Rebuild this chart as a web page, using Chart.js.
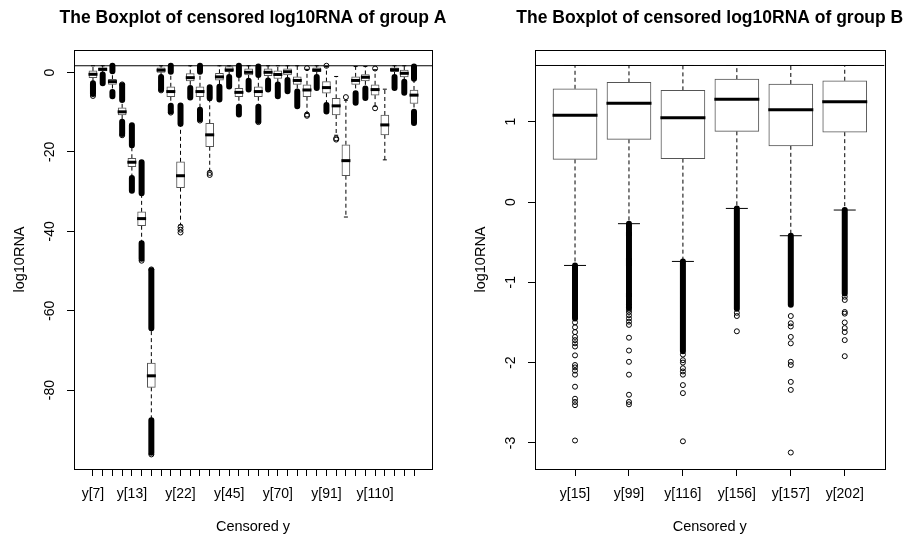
<!DOCTYPE html>
<html>
<head>
<meta charset="utf-8">
<title>Boxplot of censored log10RNA</title>
<script src="https://cdn.jsdelivr.net/npm/chart.js@4.4.1/dist/chart.umd.min.js"></script>
<style>
  html, body { margin: 0; padding: 0; background: #fff; overflow: hidden; }
  #wrap { position: relative; width: 910px; height: 537px; overflow: hidden; }
  canvas { position: absolute; top: 0; }
  #chartA { left: 0; }
  #chartB { left: 455px; }
</style>
</head>
<body>
<div id="wrap">
  <canvas id="chartA" width="455" height="537"></canvas>
  <canvas id="chartB" width="455" height="537"></canvas>
</div>
<script>
// log10(50), the censoring limit drawn as a horizontal line
const CENSOR_LIMIT = 1.7;

// ---------- group A (34 censored y) ----------
const labelsA = ["y[7]", "", "", "", "y[13]", "", "", "", "", "y[22]",
                 "", "", "", "", "y[45]", "", "", "", "", "y[70]",
                 "", "", "", "", "y[91]", "", "", "", "", "y[110]",
                 "", "", "", ""];
const q3A  = [0.4, 1.2, -1.7, -8.9, -21.6, -35.1, -73.2, 1.2, -3.6, -22.5,
              -0.3, -3.6, -12.8, -0.2, 1.5, -4.0, 0.9, -3.6, 0.9, 0.4,
              0.9, -1.1, -3.1, 1.2, -2.3, -6.5, -18.2, -1.1, -0.5, -3.1,
              -10.7, 1.2, 0.6, -4.4];
const medA = [-0.45, 0.8, -2.3, -9.9, -22.6, -36.8, -76.4, 0.6, -4.8, -26.0,
              -1.3, -4.8, -15.7, -1.1, 0.65, -5.0, 0.05, -4.8, 0.05, -0.5,
              0.2, -2.0, -4.4, 0.6, -3.8, -8.4, -22.2, -2.0, -1.2, -4.3,
              -13.2, 0.7, -0.2, -5.7];
const q1A  = [-1.3, 0.4, -3.0, -10.7, -23.7, -38.6, -79.3, 0.05, -6.1, -29.0,
              -2.1, -6.1, -18.7, -1.9, 0.2, -6.1, -0.6, -6.1, -0.8, -1.5,
              -0.6, -3.0, -6.1, 0.2, -5.2, -10.7, -26.0, -3.0, -2.1, -5.7,
              -15.7, 0.2, -1.1, -7.8];
const whiskerHiA = [1.7, 1.7, 0.1, -7.2, -18.8, -30.8, -64.8, 1.7, 0.0, -13.4,
                    1.7, 0.0, -7.0, 1.7, 1.7, -1.0, 1.7, -1.0, 1.7, 1.7,
                    1.7, 1.7, 0.8, 1.7, 1.5, -1.0, -7.0, 1.5, 1.5, 0.7,
                    -4.2, 1.7, 1.7, -2.0];
const whiskerLoA = [-2.4, -0.2, -4.7, -12.1, -26.2, -42.6, -87.2, -0.9, -8.1, -38.4,
                    -3.6, -9.0, -24.8, -3.2, -0.9, -8.3, -1.9, -8.3, -1.8, -2.8,
                    -1.8, -4.6, -10.2, -0.9, -7.9, -15.8, -36.4, -4.8, -3.8, -8.5,
                    -22.0, -0.9, -2.2, -9.6];
// runs of outliers so dense that they print as solid black columns
const outlierRunsA = [
  [[-5.4, -2.7]], [[-2.7, -0.5]], [[0.3, 1.7], [-6.0, -4.9]],
  [[-6.9, -3.2], [-15.5, -12.4]], [[-18.3, -13.3], [-29.8, -26.6]],
  [[-30.4, -22.6], [-46.9, -43.0]], [[-64.4, -49.8], [-95.8, -87.6]],
  [[-4.2, -1.1]], [[0.2, 1.7], [-9.8, -8.4]], [[-12.9, -8.3]],
  [[-6.3, -3.9]], [[0.2, 1.7], [-11.8, -9.4]], [[-6.4, -3.7]],
  [[-6.8, -3.6]], [[-3.5, -1.1]], [[-0.6, 1.7], [-10.6, -8.6]],
  [[-4.3, -2.1]], [[-0.6, 1.5], [-12.2, -8.6]], [[-4.3, -2.0]],
  [[-6.0, -3.0]], [[-4.7, -1.9]], [[-8.5, -4.8]], [],
  [[-3.9, -1.1]], [[-9.8, -8.2]], [], [], [[-7.6, -5.2]], [[-6.4, -4.0]],
  [], [], [[-3.9, -1.1]], [[-5.1, -2.3]], [[-1.6, 1.5], [-12.7, -9.9]]
];
const outliersA = [
  [-5.9], [], [], [-3.0, -15.8], [], [-47.4], [-49.6, -96.2], [-4.5], [-10.1],
  [-38.9, -39.6, -40.3], [], [-12.1], [-25.3, -25.8], [], [], [], [], [-12.5],
  [], [], [], [], [1.1, -10.6, -10.9], [], [1.7], [-16.6, -16.9], [-6.2], [],
  [], [1.0, -9.0], [], [], [], []
];
const yTicksA = [0, -20, -40, -60, -80];

// ---------- group B (6 censored y) ----------
const labelsB = ["y[15]", "y[99]", "y[116]", "y[156]", "y[157]", "y[202]"];
const q3B  = [1.41, 1.49, 1.39, 1.53, 1.47, 1.51];
const medB = [1.08, 1.23, 1.05, 1.28, 1.15, 1.25];
const q1B  = [0.53, 0.78, 0.54, 0.88, 0.70, 0.87];
const whiskerHiB = [1.70, 1.70, 1.70, 1.70, 1.70, 1.70];
const whiskerLoB = [-0.79, -0.27, -0.74, -0.08, -0.42, -0.10];
const outlierRunsB = [
  [[-1.45, -0.79]], [[-1.32, -0.27]], [[-1.86, -0.74]],
  [[-1.33, -0.08]], [[-1.28, -0.42]], [[-1.14, -0.10]]
];
const outliersB = [
  [-1.50, -1.56, -1.62, -1.68, -1.72, -1.76, -1.80, -1.91, -2.03, -2.06, -2.10,
   -2.15, -2.30, -2.45, -2.49, -2.53, -2.97],
  [-1.34, -1.37, -1.41, -1.45, -1.49, -1.53, -1.69, -1.85, -1.99, -2.15, -2.40,
   -2.49, -2.52],
  [-1.90, -1.97, -2.00, -2.07, -2.11, -2.15, -2.28, -2.38, -2.98],
  [-1.38, -1.42, -1.61],
  [-1.42, -1.51, -1.55, -1.68, -1.76, -1.99, -2.03, -2.24, -2.34, -3.12],
  [-1.18, -1.22, -1.37, -1.39, -1.50, -1.57, -1.62, -1.72, -1.92]
];
const yTicksB = [1, 0, -1, -2, -3];

Chart.defaults.font.family = '"Liberation Sans", Arial, sans-serif';

function boxplotChart(canvasId, g) {
  const xs = g.labels.map(function(l, i) { return i + 1; });

  const boxes = xs.map(function(x, i) { return { x: x, y: [g.q1[i], g.q3[i]] }; });
  const medians = xs.map(function(x, i) { return { x: x, y: g.med[i] }; });
  const whiskers = [];
  const caps = [];
  xs.forEach(function(x, i) {
    whiskers.push({ x: x, y: g.q3[i] }, { x: x, y: g.wHi[i] }, { x: x, y: null });
    whiskers.push({ x: x, y: g.q1[i] }, { x: x, y: g.wLo[i] }, { x: x, y: null });
    caps.push({ x: x, y: g.wHi[i] }, { x: x, y: g.wLo[i] });
  });
  const runs = [];
  g.runs.forEach(function(list, i) {
    list.forEach(function(r) {
      runs.push({ x: i + 1, y: r[0] }, { x: i + 1, y: r[1] }, { x: i + 1, y: null });
    });
  });
  const outliers = [];
  g.outliers.forEach(function(list, i) {
    list.forEach(function(v) { outliers.push({ x: i + 1, y: v }); });
  });

  // frame, titles and the rotated R-style tick labels
  const decor = {
    id: 'rDecor',
    afterDraw: function(chart) {
      const ctx = chart.ctx;
      const a = chart.chartArea;
      const xs_ = chart.scales.x, ys_ = chart.scales.y;
      ctx.save();
      ctx.strokeStyle = '#000';
      ctx.lineWidth = 1;
      ctx.strokeRect(Math.round(a.left) + 0.5, Math.round(a.top) + 0.5,
                     Math.round(a.right - a.left), Math.round(a.bottom - a.top));
      ctx.fillStyle = '#000';
      ctx.textAlign = 'center';
      ctx.textBaseline = 'middle';
      ctx.font = 'bold 17.5px "Liberation Sans", Arial, sans-serif';
      ctx.fillText(g.title, (a.left + a.right) / 2, 18);
      ctx.font = '14px "Liberation Sans", Arial, sans-serif';
      xs_.ticks.forEach(function(t, i) {
        const lab = g.labels[i];
        if (lab) ctx.fillText(lab, xs_.getPixelForValue(t.value), 494);
      });
      ys_.ticks.forEach(function(t) {
        ctx.save();
        ctx.translate(a.left - 24, ys_.getPixelForValue(t.value));
        ctx.rotate(-Math.PI / 2);
        ctx.fillText(String(t.value), 0, 0);
        ctx.restore();
      });
      ctx.font = '14.5px "Liberation Sans", Arial, sans-serif';
      ctx.fillText('Censored y', (a.left + a.right) / 2, 527);
      ctx.save();
      ctx.translate(a.left - 54, (a.top + a.bottom) / 2);
      ctx.rotate(-Math.PI / 2);
      ctx.fillText('log10RNA', 0, 0);
      ctx.restore();
      ctx.restore();
    }
  };

  return new Chart(document.getElementById(canvasId), {
    type: 'scatter',
    data: {
      datasets: [
        { type: 'line', data: [{ x: g.xMin, y: CENSOR_LIMIT }, { x: g.xMax, y: CENSOR_LIMIT }],
          borderColor: '#000', borderWidth: 1, pointRadius: 0, order: 1 },
        { type: 'scatter', data: outliers, pointStyle: 'circle', pointRadius: 2.5,
          borderWidth: 1, borderColor: '#000', backgroundColor: 'rgba(0,0,0,0)', order: 2 },
        { type: 'scatter', data: medians, pointStyle: 'line', pointRadius: g.boxPx / 2 + 0.5,
          borderWidth: 3, borderColor: '#000', order: 3 },
        { type: 'scatter', data: caps, pointStyle: 'line', pointRadius: g.boxPx / 4,
          borderWidth: 1, borderColor: '#000', order: 3 },
        { type: 'line', data: runs, borderColor: '#000', borderWidth: 6,
          borderCapStyle: 'round', pointRadius: 0, spanGaps: false, order: 4 },
        { type: 'bar', data: boxes, backgroundColor: '#fff', borderColor: '#555',
          borderWidth: 1, borderSkipped: false, barThickness: g.boxPx, order: 5 },
        { type: 'line', data: whiskers, borderColor: '#000', borderWidth: 1,
          borderDash: [4, 3], pointRadius: 0, spanGaps: false, order: 6 }
      ]
    },
    options: {
      responsive: false,
      animation: false,
      events: [],
      layout: { padding: { left: 0, top: 50, right: g.padRight, bottom: 0 } },
      plugins: { legend: { display: false }, title: { display: false }, tooltip: { enabled: false } },
      scales: {
        x: {
          type: 'linear', bounds: 'data', min: g.xMin, max: g.xMax, offset: false,
          afterBuildTicks: function(s) { s.ticks = xs.map(function(v) { return { value: v }; }); },
          afterFit: function(s) { s.height = 68; },
          ticks: { display: false },
          grid: { offset: false, drawOnChartArea: false, drawTicks: true, tickLength: 7, color: '#000' },
          border: { display: false }
        },
        y: {
          type: 'linear', bounds: 'data', min: g.yMin, max: g.yMax,
          afterBuildTicks: function(s) { s.ticks = g.yTicks.map(function(v) { return { value: v }; }); },
          afterFit: function(s) { s.width = g.axisW; },
          ticks: { display: false },
          grid: { drawOnChartArea: false, drawTicks: true, tickLength: 7, color: '#000' },
          border: { display: false }
        }
      }
    },
    plugins: [decor]
  });
}

boxplotChart('chartA', {
  title: 'The Boxplot of censored log10RNA of group A',
  labels: labelsA, q1: q1A, med: medA, q3: q3A, wLo: whiskerLoA, wHi: whiskerHiA,
  runs: outlierRunsA, outliers: outliersA, yTicks: yTicksA,
  xMin: -0.95, xMax: 35.85, yMin: -99.87, yMax: 5.67,
  boxPx: 8, axisW: 74, padRight: 23
});

boxplotChart('chartB', {
  title: 'The Boxplot of censored log10RNA of group B',
  labels: labelsB, q1: q1B, med: medB, q3: q3B, wLo: whiskerLoB, wHi: whiskerHiB,
  runs: outlierRunsB, outliers: outliersB, yTicks: yTicksB,
  xMin: 0.258, xMax: 6.737, yMin: -3.325, yMax: 1.893,
  boxPx: 44, axisW: 80, padRight: 17
});
</script>
</body>
</html>
